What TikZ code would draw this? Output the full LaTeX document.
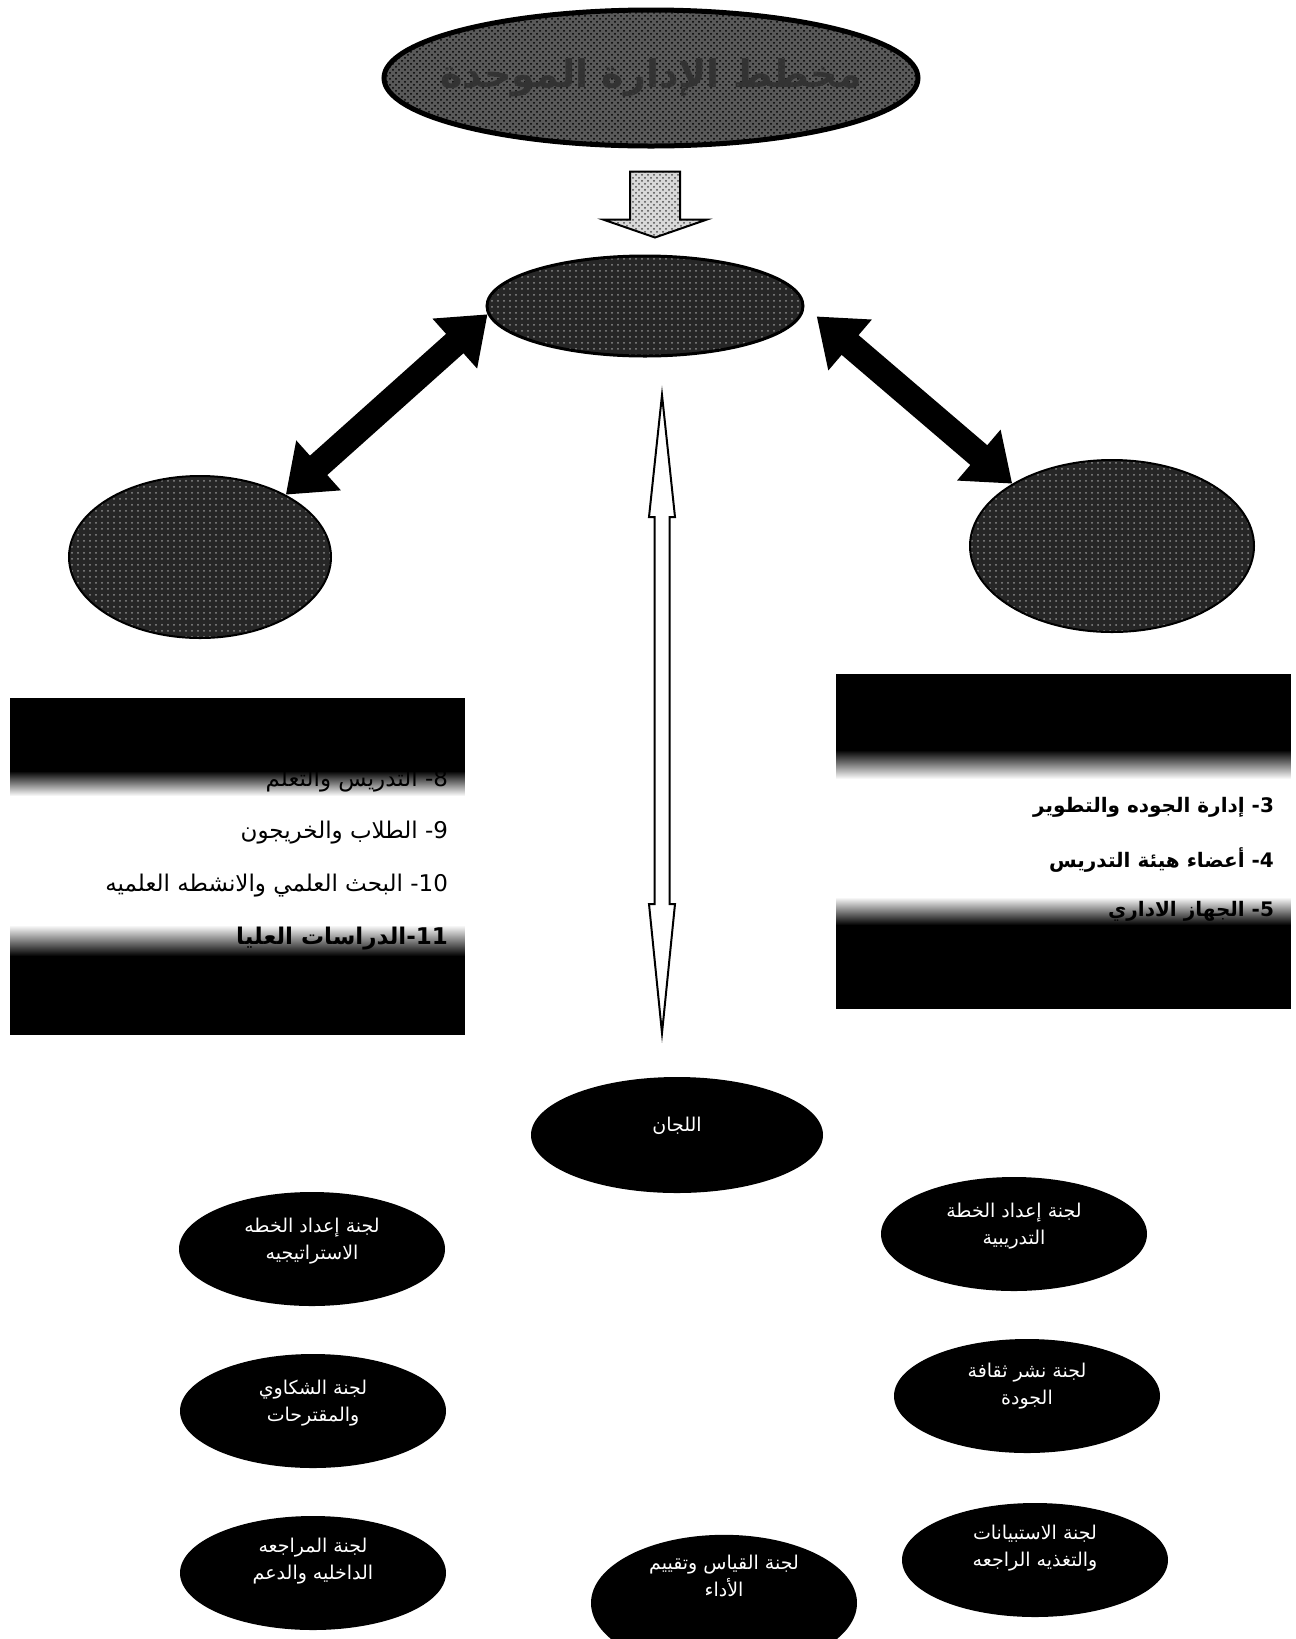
\documentclass[tikz,border=0pt]{standalone}
\usepackage{fontspec}
\usetikzlibrary{shapes.geometric,arrows.meta,patterns,fadings,calc}
\newfontfamily\arabicfont[Script=Arabic]{DejaVu Sans}
\TeXXeTstate=1
\newcommand{\ar}[1]{{\arabicfont\beginR #1\endR}}
\tikzfading[name=fadedown, top color=transparent!0, bottom color=transparent!100]
\tikzfading[name=fadeup, top color=transparent!100, bottom color=transparent!0]
\tikzset{
  noisy/.style={ellipse, draw, inner sep=0pt, preaction={fill=black!65}, pattern=crosshatch dots, pattern color=black},
  darknoisy/.style={ellipse, draw, inner sep=0pt, preaction={fill=black!85}, pattern=dots, pattern color=black!45},
  committee/.style={ellipse, fill=black, inner sep=0pt, minimum width=133pt, minimum height=57pt, text=white, align=center, font=\fontsize{9.5}{13.5}\selectfont},
  thickarrow/.style={line width=13pt, {Triangle[width=32pt,length=22pt]}-{Triangle[width=32pt,length=22pt]}},
  listitem/.style={anchor=east, font=\fontsize{11.5}{14}\selectfont},
  boldlist/.style={anchor=east, font=\fontsize{10}{14}\selectfont\bfseries}
}
\begin{document}
\begin{tikzpicture}[x=0.5pt,y=-0.5pt]
\useasboundingbox (0,0) rectangle (1296,1639);
% top of the chart
\node[noisy, line width=2.5pt, minimum width=267pt, minimum height=68pt] (top) at (651,78) {};
\node[text=black!80, font=\fontsize{19}{22}\selectfont\bfseries] (toptext) at (top) {\ar{مخطط الإدارة الموحدة}};
\node[darknoisy, line width=1.5pt, minimum width=158pt, minimum height=50pt] (unit) at (645,306) {};
\node[darknoisy, line width=1pt, minimum width=131pt, minimum height=81pt] (left) at (200,557) {};
\node[darknoisy, line width=1pt, minimum width=142pt, minimum height=86pt] (right) at (1112,546) {};
\draw[line width=1pt, preaction={fill=black!15}, pattern=crosshatch dots, pattern color=black!70]
  ($(top.south)+(-21,23)$) -- ++(50,0) -- ++(0,48) -- ++(27,0) -- ++(-52,18) -- ++(-52,-18) -- ++(27,0) -- cycle;
\draw[thickarrow] (left.36) -- (unit.183);
\draw[thickarrow, shorten <=8pt] (unit.0) -- (right.148);
% hollow arrow down to the committees
\coordinate (vtop) at (662,395);
\coordinate (vbot) at (662,1033);
\draw[line width=1pt, fill=white] (vtop) -- ++(13,122) -- ++(-5.5,0) -- ($(vbot)+(7.5,-129)$) -- ++(5.5,0) -- (vbot)
  -- ++(-13,-129) -- ++(5.5,0) -- ($(vtop)+(-7.5,122)$) -- ++(-5.5,0) -- cycle;
% left list
\node[listitem] (l8) at (455,781) {\ar{\beginL 8\endL- التدريس والتعلم}};
\node[listitem] (l9) at (455,833) {\ar{\beginL 9\endL- الطلاب والخريجون}};
\node[listitem] (l10) at (455,886) {\ar{\beginL 10\endL- البحث العلمي والانشطه العلميه}};
\node[listitem, font=\fontsize{11.5}{14}\selectfont\bfseries] (l11) at (455,939) {\ar{\beginL 11\endL-الدراسات العليا}};
\fill (10,698) rectangle (465,771);
\fill[path fading=fadedown] (10,771) rectangle (465,796);
\fill[path fading=fadeup] (10,925) rectangle (465,956);
\fill (10,956) rectangle (465,1035);
% right list
\node[boldlist] (r3) at (1281,807) {\ar{\beginL 3\endL- إدارة الجوده والتطوير}};
\node[boldlist] (r4) at (1281,860) {\ar{\beginL 4\endL- أعضاء هيئة التدريس}};
\node[boldlist] (r5) at (1281,911) {\ar{\beginL 5\endL- الجهاز الاداري}};
\fill (836,674) rectangle (1291,750);
\fill[path fading=fadedown] (836,750) rectangle (1291,779);
\fill[path fading=fadeup] (836,897) rectangle (1291,925);
\fill (836,925) rectangle (1291,1009);
% committees
\node[committee, minimum width=146pt, minimum height=58pt] (lijan) at (677,1135) {\ar{اللجان}\\[-3pt]};
\node[committee] (c1) at (312,1249) {\ar{لجنة إعداد الخطه}\\\ar{الاستراتيجيه}\\[-3pt]};
\node[committee] (c2) at (313,1411) {\ar{لجنة الشكاوي}\\\ar{والمقترحات}\\[-3pt]};
\node[committee] (c3) at (313,1573) {\ar{لجنة المراجعه}\\\ar{الداخليه والدعم}\\[1pt]};
\node[committee] (c4) at (1014,1234) {\ar{لجنة إعداد الخطة}\\\ar{التدريبية}\\[-3pt]};
\node[committee] (c5) at (1027,1396) {\ar{لجنة نشر ثقافة}\\\ar{الجودة}\\[-1pt]};
\node[committee] (c6) at (1035,1560) {\ar{لجنة الاستبيانات}\\\ar{والتغذيه الراجعه}\\[1pt]};
\node[committee] (c7) at (724,1603) {\ar{لجنة القياس وتقييم}\\\ar{الأداء}\\[14pt]};
\end{tikzpicture}
\end{document}
